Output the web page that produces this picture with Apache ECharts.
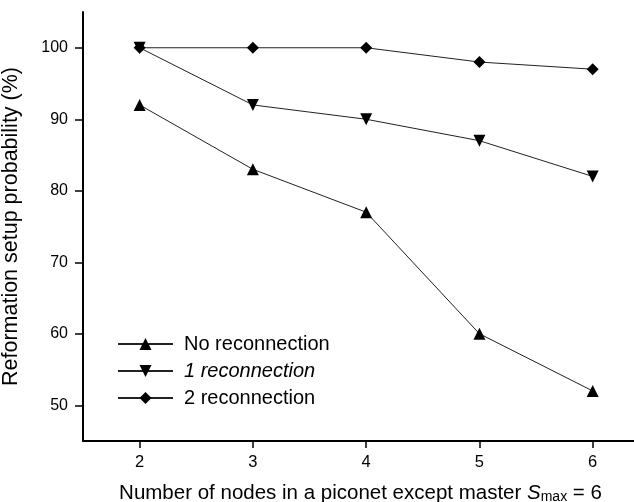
<!DOCTYPE html>
<html>
<head>
<meta charset="utf-8">
<script src="https://cdn.jsdelivr.net/npm/echarts@6/dist/echarts.min.js"></script>
<style>
  html, body { margin: 0; padding: 0; background: #fff; }
  #chart { width: 634px; height: 502px; }
</style>
</head>
<body>
<div id="chart"></div>
<script>
// nodes in a piconet (x axis)
const nodes = [2, 3, 4, 5, 6];
const yTicks = [50, 60, 70, 80, 90, 100];

// reformation setup probability (%)
const noReconnection = [92, 83, 77, 60, 52];
const oneReconnection = [100, 92, 90, 87, 82];
const twoReconnection = [100, 100, 100, 98, 97];

const seriesNames = ['No reconnection', '1 reconnection', '2 reconnection'];

const FONT = 'Liberation Sans, Arial, sans-serif';

const chart = echarts.init(document.getElementById('chart'), null, { renderer: 'canvas' });

const toPairs = vals => vals.map((v, i) => [nodes[i], v]);

const lineSeries = (name, vals, symbol, rotate) => ({
  name,
  type: 'line',
  data: toPairs(vals),
  symbol,
  symbolSize: 12,
  symbolRotate: rotate,
  showAllSymbol: true,
  lineStyle: { color: '#222', width: 1 },
  itemStyle: { color: '#000' },
  emphasis: { disabled: true },
  animation: false
});

chart.setOption({
  backgroundColor: '#fff',
  textStyle: { fontFamily: FONT, color: '#000' },
  grid: { left: 83, right: -4, top: 12, bottom: 61, outerBoundsMode: 'none', containLabel: false },
  legend: {
    left: 112,
    top: 329,
    orient: 'vertical',
    itemWidth: 55,
    itemHeight: 15,
    itemGap: 7,
    selectedMode: false,
    textStyle: { fontSize: 20, color: '#000', fontFamily: FONT, padding: [0, 0, 0, 6] },
    data: [
      { name: seriesNames[0] },
      { name: seriesNames[1], textStyle: { fontStyle: 'italic' } },
      { name: seriesNames[2] }
    ]
  },
  xAxis: {
    type: 'value',
    min: 1.5,
    max: 6.4,
    name: '{t|Number of nodes in a piconet except master }{i|S}{sub|max}{t| = 6}',
    nameLocation: 'middle',
    nameGap: 40,
    nameTextStyle: {
      fontSize: 20.5,
      color: '#000',
      fontFamily: FONT,
      rich: {
        t: { fontSize: 20.5, color: '#000', fontFamily: FONT, lineHeight: 24, verticalAlign: 'middle' },
        i: { fontSize: 20.5, fontStyle: 'italic', color: '#000', fontFamily: FONT, lineHeight: 24, verticalAlign: 'middle' },
        sub: { fontSize: 14, color: '#000', fontFamily: FONT, lineHeight: 24, verticalAlign: 'middle', padding: [9, 0, 0, 0] }
      }
    },
    axisLine: { show: true, lineStyle: { color: '#000', width: 2 } },
    axisTick: { show: true, inside: false, length: 7, customValues: nodes, lineStyle: { color: '#000', width: 1.5 } },
    axisLabel: { fontSize: 16.5, color: '#000', margin: 13, customValues: nodes },
    splitLine: { show: false }
  },
  yAxis: {
    type: 'value',
    min: 45,
    max: 105,
    name: 'Reformation setup probability (%)',
    nameLocation: 'middle',
    nameGap: 61,
    nameTextStyle: { fontSize: 21.5, color: '#000', fontFamily: FONT },
    axisLine: { show: true, lineStyle: { color: '#000', width: 2 } },
    axisTick: { show: true, inside: false, length: 8, customValues: yTicks, lineStyle: { color: '#000', width: 1.5 } },
    axisLabel: { fontSize: 16, color: '#000', margin: 15, customValues: yTicks },
    splitLine: { show: false }
  },
  series: [
    lineSeries(seriesNames[0], noReconnection, 'triangle', 0),
    lineSeries(seriesNames[1], oneReconnection, 'triangle', 180),
    lineSeries(seriesNames[2], twoReconnection, 'diamond', 0)
  ]
});
</script>
</body>
</html>
